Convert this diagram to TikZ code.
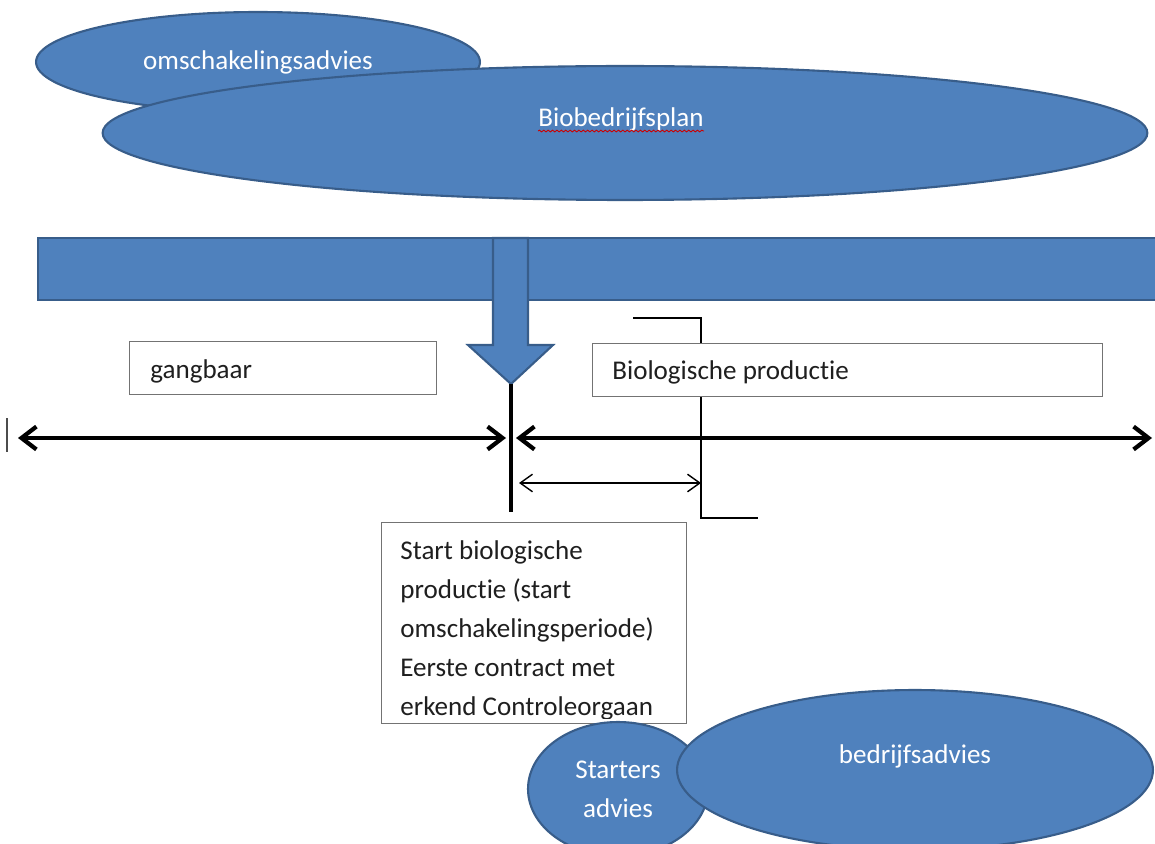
\documentclass[tikz,border=0pt]{standalone}
\usepackage{fontspec}
\setmainfont{Carlito}[Ligatures=NoCommon]
\usepackage{tikz}
\usetikzlibrary{arrows.meta,positioning,shapes.geometric,decorations.pathmorphing}
\definecolor{vlak}{RGB}{79,129,189}
\definecolor{rand}{RGB}{56,93,138}
\newcommand{\lbl}{\fontsize{15.4}{22.1}\selectfont}
\tikzset{
    %Define style for the blue ellipses
    bubble/.style={
           ellipse,
           draw=rand, line width=1.2pt,
           fill=vlak,
           inner sep=0pt,
           text=white,
           font=\lbl,
           align=center},
    %Define style for bar and big arrow
    balk/.style={
           draw=rand, line width=1.2pt,
           fill=vlak},
    %Define style for white boxes
    kader/.style={
           rectangle,
           draw=black!55, line width=0.7pt,
           fill=white,
           inner sep=0pt,
           anchor=north west},
    tekst/.style={font=\lbl, text=black!88, inner sep=0pt},
    wit/.style={font=\lbl, text=white, inner sep=0pt},
    % Define arrow styles
    tijd/.style={
           {Straight Barb[length=8.5pt,width=13pt]}-{Straight Barb[length=8.5pt,width=13pt]},
           line width=2.4pt},
    pil/.style={
           {Straight Barb[length=7pt,width=10pt]}-{Straight Barb[length=7pt,width=10pt]},
           line width=0.8pt},
    lijn/.style={line width=0.8pt}
}

\begin{document}
\begin{tikzpicture}[x=0.02cm, y=-0.02cm]
\useasboundingbox (0,0) rectangle (1155,844);
\clip (0,0) rectangle (1155,844);

% advies bovenaan
\node[bubble, minimum width=8.88cm, minimum height=2cm] (omsch) at (258,62) {omschakelingsadvies};
\node[bubble, minimum width=20.9cm, minimum height=2.68cm] (plan) at (625,133) {};
\node[wit, anchor=base] (planTxt) at (621,127) {Biobedrijfsplan};
\draw[red!80!black, line width=0.5pt, decorate, decoration={snake, amplitude=0.5pt, segment length=2.5pt}]
    ([yshift=-2.3pt]planTxt.base west) -- ([yshift=-2.3pt]planTxt.base east);

% balk met pijl
\draw[balk] (38,238) rectangle (1175,300);
\draw[balk] (493,238) -- (528,238) -- (528,345) -- (553,345) -- (511,384) coordinate (punt)
    -- (468,345) -- (493,345) -- cycle;

% haak
\coordinate (haakA) at (633,318);
\coordinate (haakB) at (701,518);
\coordinate (haakC) at (758,518);
\draw[lijn] (haakA) -| (haakB) -- (haakC);

% vakken
\node[kader, minimum width=6.14cm, minimum height=1.06cm] (gang) at (129,341) {};
\node[tekst, anchor=base west] (gangTxt) at (150,378) {gangbaar};
\node[kader, minimum width=10.2cm, minimum height=1.06cm] (bio) at (592,343) {};
\node[tekst, anchor=base west] (bioTxt) at (612,379) {Biologische productie};

% tijdlijn
\coordinate (links) at (18,438);
\coordinate (midL) at (506,438);
\coordinate (midR) at (516,438);
\coordinate (rechts) at (1152,438);
\coordinate (voet) at (511,512);
\coordinate (kortA) at (519,483);
\coordinate (kortB) at (701,483);
\coordinate (streepA) at (7,418);
\coordinate (streepB) at (7,452);
\draw[tijd] (links) -- (midL);
\draw[tijd] (midR) -- (rechts);
\draw[line width=2.4pt] (punt) -- (voet);
\draw[pil] (kortA) -- (kortB);
\draw[black!70, line width=0.6pt] (streepA) -- (streepB);

% startvak
\node[kader, minimum width=6.1cm, minimum height=4.02cm] (start) at (381,522) {};
\begin{scope}
\clip (382,523) rectangle (685,718);
\foreach \regel [count=\i] in {Start biologische, productie (start, omschakelingsperiode), Eerste contract met, erkend Controleorgaan}
    \node[tekst, anchor=base west] (start\i) at (400,{559+39*(\i-1)}) {\regel};
\end{scope}

% advies onderaan
\node[bubble, minimum width=3.6cm, minimum height=2.68cm] (starters) at (618,789) {Starters\\advies};
\node[bubble, minimum width=9.52cm, minimum height=3.2cm] (bedrijf) at (915,770) {};
\node[wit, anchor=base] (bedrijfTxt) at (915,763) {bedrijfsadvies};

\end{tikzpicture}
\end{document}
